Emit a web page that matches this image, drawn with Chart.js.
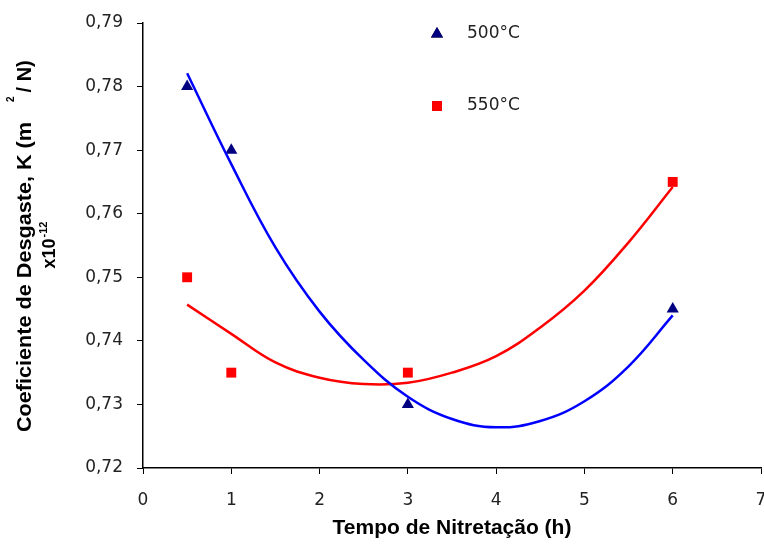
<!DOCTYPE html>
<html>
<head>
<meta charset="utf-8">
<script src="https://cdn.jsdelivr.net/npm/chart.js@4/dist/chart.umd.min.js"></script>
<style>
html,body{margin:0;padding:0;background:#fff;}
#wrap{width:764px;height:553px;position:relative;}
</style>
</head>
<body>
<div id="wrap"><canvas id="c" width="764" height="553"></canvas></div>
<script>
// ---- data ----
const hours = [0.5, 1, 3, 6];
const k500 = [0.780, 0.770, 0.730, 0.745];
const k550 = [0.750, 0.735, 0.735, 0.765];
const trendHours = [0.5, 1, 1.5, 2, 2.5, 3, 3.5, 4, 4.5, 5, 5.5, 6];
const trend500 = [0.7821, 0.7678, 0.7547, 0.7446, 0.7370, 0.7312, 0.7277, 0.7264, 0.7274, 0.7305, 0.7360, 0.7440];
const trend550 = [0.7457, 0.7411, 0.7366, 0.7342, 0.7332, 0.7334, 0.7350, 0.7376, 0.7421, 0.7479, 0.7555, 0.7642];
const seriesLabels = ['500°C', '550°C'];
const xTicks = [0, 1, 2, 3, 4, 5, 6, 7];
const yTicks = [0.72, 0.73, 0.74, 0.75, 0.76, 0.77, 0.78, 0.79];
const xTitle = 'Tempo de Nitretação (h)';
const yTitleMain = 'Coeficiente de Desgaste, K (m';
const yTitleSup = '2';
const yTitleEnd = '/ N)';
const yTitle2 = 'x10';
const yTitle2Sup = '-12';

const pts = (xs, ys) => xs.map((x, i) => ({x: x, y: ys[i]}));
const FONT = '"Liberation Sans", Arial, sans-serif';
const TFONT = '"DejaVu Sans", sans-serif';
const TXT = '#222';

const areaPlugin = {
  id: 'areaFix',
  afterLayout(chart) {
    const ca = chart.chartArea;
    const xs = chart.scales.x;
    const target = chart.width - 3;
    ca.right = target;
    ca.width = ca.right - ca.left;
    xs.right = target;
    xs.width = xs.right - xs.left;
    xs.configure();
  }
};

const legendPlugin = {
  id: 'customLegend',
  afterDraw(chart) {
    const ctx = chart.ctx;
    const items = [
      {ds: chart.data.datasets[0], y: 34},
      {ds: chart.data.datasets[1], y: 106}
    ];
    ctx.save();
    items.forEach(it => {
      Chart.helpers.drawPoint(ctx, {
        pointStyle: it.ds.pointStyle, radius: it.ds.pointRadius, rotation: 0, borderWidth: 0
      }, 437, it.y);
      ctx.fillStyle = it.ds.backgroundColor;
      ctx.fill();
      ctx.fillStyle = TXT;
      ctx.font = '17px ' + TFONT;
      ctx.textBaseline = 'middle';
      ctx.textAlign = 'left';
      ctx.fillText(it.ds.label, 467, it.y);
    });
    ctx.restore();
  }
};

const yTitlePlugin = {
  id: 'yTitle',
  afterDraw(chart) {
    const ctx = chart.ctx;
    ctx.save();
    ctx.fillStyle = '#000';
    ctx.textBaseline = 'middle';
    ctx.textAlign = 'left';
    ctx.translate(25, 0);
    ctx.rotate(-Math.PI / 2);
    const big = 'bold 20px ' + FONT;
    const small = 'bold 10px ' + FONT;
    ctx.font = big;
    const w1 = ctx.measureText(yTitleMain).width;
    const sx = 310 / w1;
    let x = -432;
    ctx.save();
    ctx.translate(x, 0);
    ctx.scale(sx, 1);
    ctx.fillText(yTitleMain, 0, 0);
    ctx.restore();
    x += 310 + 20;
    ctx.font = small;
    ctx.fillText(yTitleSup, x, -14);
    x += ctx.measureText(yTitleSup).width + 4;
    ctx.font = big;
    ctx.fillText(yTitleEnd, x, 0);
    ctx.font = 'bold 18px ' + FONT;
    const v1 = ctx.measureText(yTitle2).width;
    ctx.font = 'bold 11px ' + FONT;
    const v2 = ctx.measureText(yTitle2Sup).width;
    let x2 = -245 - (v1 + v2 + 1) / 2;
    ctx.font = 'bold 18px ' + FONT;
    ctx.fillText(yTitle2, x2, 25);
    ctx.font = 'bold 11px ' + FONT;
    ctx.fillText(yTitle2Sup, x2 + v1 + 1, 19);
    ctx.restore();
  }
};

new Chart(document.getElementById('c'), {
  type: 'scatter',
  data: {
    datasets: [
      {label: seriesLabels[0], data: pts(hours, k500), pointStyle: 'triangle', pointRadius: 7,
       pointHoverRadius: 7, backgroundColor: '#000080', borderColor: '#000080', borderWidth: 0, showLine: false, order: 2},
      {label: seriesLabels[1], data: pts(hours, k550), pointStyle: 'rect', pointRadius: 7,
       pointHoverRadius: 7, backgroundColor: '#FF0000', borderColor: '#FF0000', borderWidth: 0, showLine: false, order: 2},
      {label: 'trend500', data: pts(trendHours, trend500), showLine: true, pointRadius: 0, borderColor: '#0000FF',
       borderWidth: 2.5, tension: 0.4, fill: false, order: 1},
      {label: 'trend550', data: pts(trendHours, trend550), showLine: true, pointRadius: 0, borderColor: '#FF0000',
       borderWidth: 2.5, tension: 0.4, fill: false, order: 1}
    ]
  },
  options: {
    responsive: false,
    animation: false,
    events: [],
    layout: {padding: {top: 23, left: 0, right: 3, bottom: 0}},
    plugins: {legend: {display: false}, tooltip: {enabled: false}},
    scales: {
      x: {
        type: 'linear', min: 0, max: 7,
        afterBuildTicks: s => { s.ticks = xTicks.map(v => ({value: v})); },
        afterFit: s => { s.height = 85; s.paddingLeft = 0; s.paddingRight = 0; },
        grid: {drawOnChartArea: false, color: '#000', tickLength: 6, tickWidth: 1},
        border: {color: '#000', width: 1.5},
        ticks: {color: TXT, font: {size: 17, family: TFONT}, padding: 16, maxRotation: 0},
        title: {display: true, text: xTitle, color: '#000', font: {size: 21, weight: 'bold', family: FONT}, padding: {top: 8, bottom: 12}}
      },
      y: {
        type: 'linear', min: 0.72, max: 0.79,
        afterBuildTicks: s => { s.ticks = yTicks.map(v => ({value: v})); },
        afterFit: s => { s.width = 143; s.paddingTop = 0; s.paddingBottom = 0; },
        grid: {drawOnChartArea: false, color: '#000', tickLength: 6, tickWidth: 1},
        border: {color: '#000', width: 1.5},
        ticks: {color: TXT, font: {size: 17, family: TFONT}, padding: 14,
          callback: v => v.toFixed(2).replace('.', ',')}
      }
    }
  },
  plugins: [areaPlugin, legendPlugin, yTitlePlugin]
});
</script>
</body>
</html>
